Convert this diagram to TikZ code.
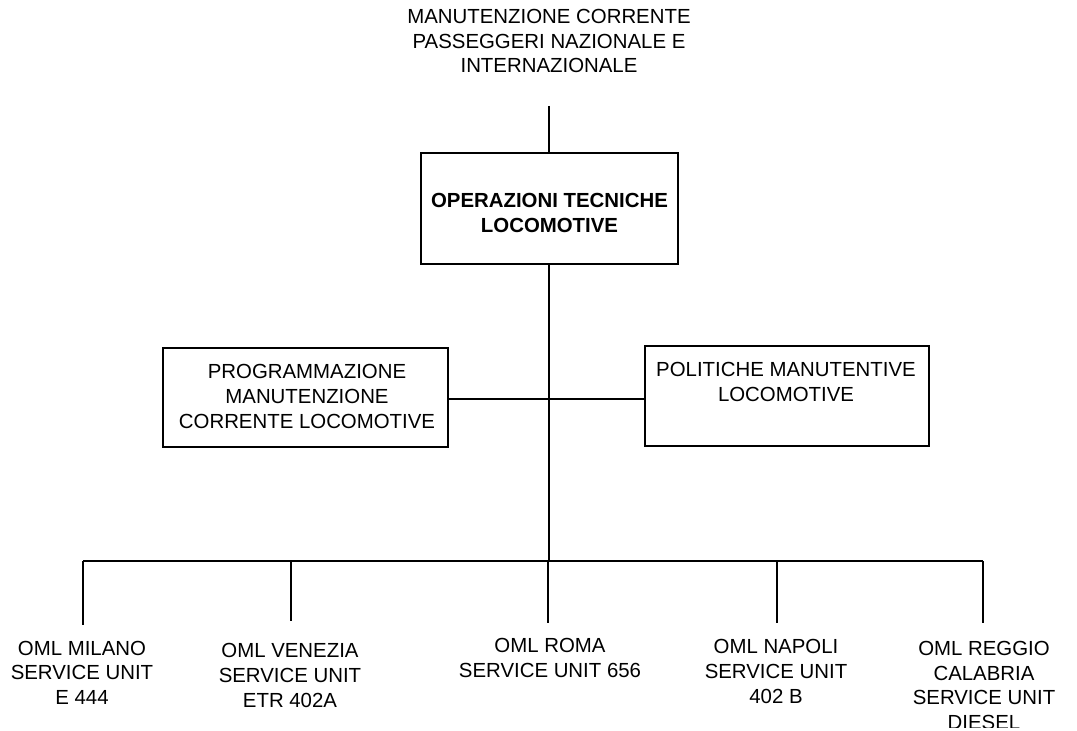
\documentclass[tikz,border=0pt]{standalone}
\usepackage{fontspec}
\setmainfont{Liberation Sans}
\begin{document}
\begin{tikzpicture}[x=0.75pt,y=-0.75pt,
  line/.style={line width=1.5pt},
  box/.style={draw, line width=1.5pt, inner sep=0pt},
  % anchored on the baseline of the last line
  txt/.style={align=center, inner sep=0pt, anchor=base,
              font=\fontsize{15.3}{18.4}\selectfont},
]
\useasboundingbox[fill=white] (0,0) rectangle (1077,731);
% the page area ends a few pixels above the lower edge
\clip (0,0) rectangle (1077,727);

% parent unit (no frame)
\node[txt] (parent) at (549,73) {MANUTENZIONE CORRENTE\\PASSEGGERI NAZIONALE E\\INTERNAZIONALE};
\coordinate (parentfoot) at (549,106);

% head office
\node[box, minimum width=192.75pt, minimum height=83.25pt] (opt) at (549.5,208.5) {};
\node[txt, font=\fontsize{15.3}{18.4}\selectfont\bfseries] (opttext) at (549.5,232.5) {OPERAZIONI TECNICHE\\LOCOMOTIVE};

% staff units
\node[box, minimum width=213.75pt, minimum height=74.25pt] (prog) at (305.5,397.5) {};
\node[txt] (progtext) at (307,428) {PROGRAMMAZIONE\\MANUTENZIONE\\CORRENTE LOCOMOTIVE};
\node[box, minimum width=213pt, minimum height=75pt] (pol) at (787,396) {};
\node[txt] (poltext) at (786,401.5) {POLITICHE MANUTENTIVE\\LOCOMOTIVE};

% bus to the local units
\coordinate (bus) at (549,561);
\coordinate (busL) at (83,561);
\coordinate (busR) at (983,561);
\coordinate (staff) at (549,399);

% local units
\node[txt] (mil) at (82,704.5) {OML MILANO\\SERVICE UNIT\\E 444};
\node[txt] (ven) at (290,707) {OML VENEZIA\\SERVICE UNIT\\ETR 402A};
\node[txt] (rom) at (550,677.5) {OML ROMA\\SERVICE UNIT 656};
\node[txt] (nap) at (776,703) {OML NAPOLI\\SERVICE UNIT\\402 B};
\node[txt] (reg) at (984,729.5) {OML REGGIO\\CALABRIA\\SERVICE UNIT\\DIESEL};

\coordinate (milTop) at (83,625);
\coordinate (venTop) at (291,621);
\coordinate (romTop) at (548,623);
\coordinate (napTop) at (777,623);
\coordinate (regTop) at (983,623);

% connectors
\draw[line] (parentfoot) -- (parentfoot |- opt.north);
\draw[line] (opt.south -| bus) -- (bus);
\draw[line] (prog.east |- staff) -- (pol.west |- staff);
\draw[line] (busL) -- (busR);
\draw[line] (busL) -- (milTop);
\draw[line] (venTop |- bus) -- (venTop);
\draw[line] (romTop |- bus) -- (romTop);
\draw[line] (napTop |- bus) -- (napTop);
\draw[line] (busR) -- (regTop);
\end{tikzpicture}
\end{document}
